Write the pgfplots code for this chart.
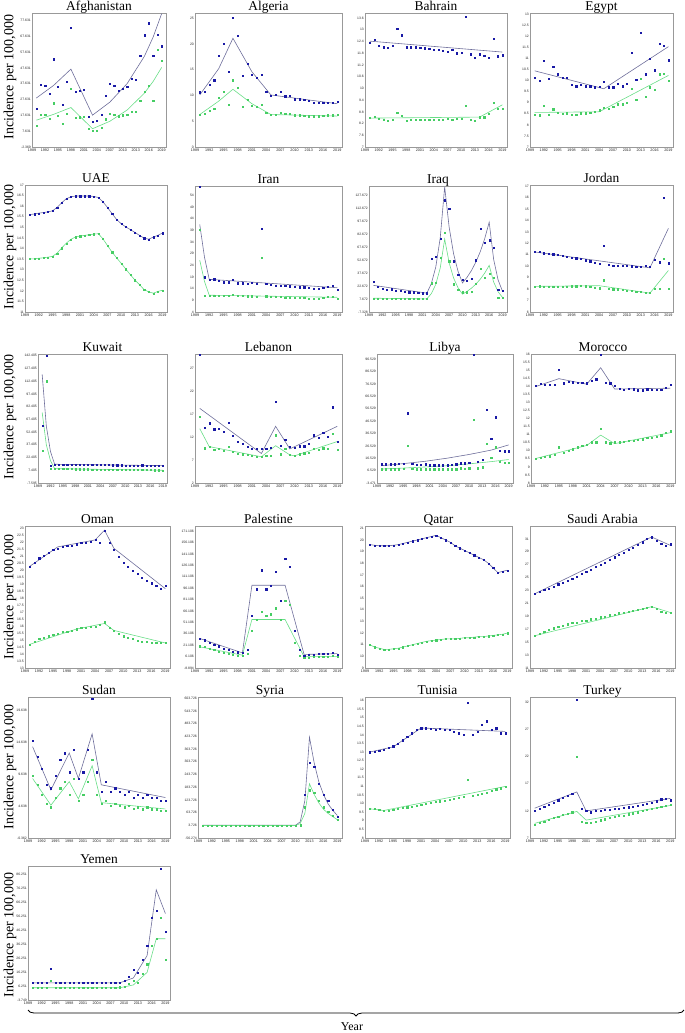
\documentclass[border=0pt]{standalone}
\usepackage{fontspec}
\setmainfont{Liberation Serif}
\newfontfamily\tickfont{Liberation Sans}
\usepackage{pgfplots}
\pgfplotsset{compat=1.18}
\usepackage{pgfplotstable}
\usetikzlibrary{decorations.pathreplacing}

\definecolor{ptblue}{RGB}{25,25,165}
\definecolor{fitblue}{RGB}{110,110,155}
\definecolor{ptgreen}{RGB}{70,205,100}
\definecolor{fitgreen}{RGB}{105,222,135}

\pgfplotsset{
  every axis title/.style={at={(0.5,1)}, anchor=base, inner sep=0pt, yshift=2.5bp,
    font=\fontsize{13.5}{13.5}\selectfont},
  panel/.style={
    scale only axis, anchor=north west, clip=false,
    xmin=1989, xmax=2020, xtick={1989,1992,...,2019},
    axis line style={draw=black!40, line width=0.8bp},
    tick style={draw=none},
    scaled ticks=false,
    ticklabel style={font=\tickfont\fontsize{3.4}{3.4}\selectfont, inner sep=1bp, text=black!85},
    xticklabel style={font=\tickfont\fontsize{3.7}{3.7}\selectfont, yshift=-0.5bp},
    /pgf/number format/fixed,
    /pgf/number format/precision=3,
    /pgf/number format/1000 sep={},
    /pgf/number format/assume math mode=true,
  },
  bp/.style={only marks, mark=square*, mark size=0.6bp, mark options={line width=0.1bp}, color=ptblue},
  gp/.style={only marks, mark=square*, mark size=0.6bp, mark options={line width=0.1bp}, color=ptgreen},
  bf/.style={no marks, color=fitblue, line width=0.6bp},
  gf/.style={no marks, color=fitgreen, line width=0.6bp},
}

% year, total (blue), second series (green)
\pgfplotstableread[row sep=\\]{yr b g\\
1990 22.1 11.4\\ 1991 37.2 18.3\\ 1992 36.5 18.3\\ 1993 31.2 15.7\\ 1994 53.3 25.4\\
1995 36.1 17.4\\ 1996 24.7 12.5\\ 1997 38.9 18.9\\ 1998 73.1 34.4\\ 1999 32.5 16.1\\
2000 33.5 16.6\\ 2001 33.8 16.8\\ 2002 16.8 9.2\\ 2003 13.8 8.2\\ 2004 14.2 8.2\\
2005 18.3 9.7\\ 2006 30.1 15.3\\ 2007 37.6 18.7\\ 2008 36.5 18.3\\ 2009 33.5 17.2\\
2010 34.8 17.8\\ 2011 35.7 18.0\\ 2012 40.9 20.0\\ 2013 40.4 20.0\\ 2014 55.5 26.9\\
2015 68.4 32.9\\ 2016 76.1 36.5\\ 2017 55.5 27.1\\ 2018 69.0 59.1\\ 2019 61.5 52.3\\}\afg

\pgfplotstableread[row sep=\\]{yr b g\\
1990 10.65 6.3\\ 1991 10.8 6.5\\ 1992 12.1 7.1\\ 1993 13.0 7.4\\ 1994 17.7 9.6\\
1995 20.1 10.8\\ 1996 14.7 8.3\\ 1997 25.1 13.0\\ 1998 21.7 11.5\\ 1999 13.8 7.9\\
2000 16.2 9.2\\ 2001 14.1 8.1\\ 2002 13.5 7.9\\ 2003 14.1 8.3\\ 2004 10.8 6.7\\
2005 10.0 6.3\\ 2006 10.1 6.3\\ 2007 10.7 6.7\\ 2008 9.9 6.5\\ 2009 10.0 6.5\\
2010 9.3 6.2\\ 2011 9.3 6.2\\ 2012 9.2 6.1\\ 2013 9.0 6.0\\ 2014 8.7 6.0\\
2015 8.6 6.0\\ 2016 8.6 6.1\\ 2017 8.7 6.2\\ 2018 8.7 6.2\\ 2019 8.8 6.3\\}\alg

\pgfplotstableread[row sep=\\]{yr b g\\
1990 12.35 8.50\\ 1991 12.51 8.57\\ 1992 12.19 8.44\\ 1993 12.12 8.39\\ 1994 12.09 8.36\\
1995 12.21 8.39\\ 1996 13.08 8.77\\ 1997 12.73 8.60\\ 1998 12.12 8.36\\ 1999 12.12 8.39\\
2000 12.12 8.39\\ 2001 12.11 8.39\\ 2002 12.07 8.39\\ 2003 12.04 8.39\\ 2004 11.99 8.39\\
2005 11.97 8.39\\ 2006 11.95 8.39\\ 2007 11.90 8.46\\ 2008 12.00 8.39\\ 2009 11.81 8.44\\
2010 11.83 8.46\\ 2011 13.69 9.12\\ 2012 11.76 8.39\\ 2013 11.57 8.36\\ 2014 11.76 8.53\\
2015 11.69 8.53\\ 2016 11.59 8.70\\ 2017 12.56 9.29\\ 2018 11.66 8.95\\ 2019 11.71 8.98\\}\bah

\pgfplotstableread[row sep=\\]{yr b g\\
1990 10.12 8.48\\ 1991 10.01 8.44\\ 1992 10.89 8.87\\ 1993 10.09 8.45\\ 1994 10.63 8.71\\
1995 10.29 8.56\\ 1996 10.12 8.51\\ 1997 10.12 8.53\\ 1998 9.81 8.45\\ 1999 9.75 8.45\\
2000 9.81 8.53\\ 2001 9.75 8.53\\ 2002 9.75 8.56\\ 2003 9.71 8.59\\ 2004 9.74 8.67\\
2005 9.95 8.79\\ 2006 9.71 8.74\\ 2007 9.71 8.82\\ 2008 9.86 8.94\\ 2009 9.75 8.94\\
2010 9.86 9.02\\ 2011 11.28 9.63\\ 2012 10.04 9.14\\ 2013 12.17 10.08\\ 2014 10.29 9.29\\
2015 10.98 9.71\\ 2016 10.47 9.58\\ 2017 11.68 10.29\\ 2018 11.58 10.32\\ 2019 10.93 10.01\\}\egy

\pgfplotstableread[row sep=\\]{yr b g\\
1990 15.60 13.51\\ 1991 15.63 13.51\\ 1992 15.67 13.54\\ 1993 15.70 13.56\\ 1994 15.73 13.59\\
1995 15.78 13.63\\ 1996 15.94 13.78\\ 1997 16.16 14.02\\ 1998 16.35 14.25\\ 1999 16.44 14.43\\
2000 16.48 14.54\\ 2001 16.48 14.59\\ 2002 16.48 14.62\\ 2003 16.48 14.65\\ 2004 16.46 14.68\\
2005 16.41 14.70\\ 2006 16.21 14.46\\ 2007 15.94 14.14\\ 2008 15.65 13.83\\ 2009 15.37 13.56\\
2010 15.17 13.30\\ 2011 15.02 13.03\\ 2012 14.89 12.76\\ 2013 14.76 12.51\\ 2014 14.62 12.29\\
2015 14.49 12.06\\ 2016 14.44 11.95\\ 2017 14.54 11.89\\ 2018 14.62 11.97\\ 2019 14.73 12.03\\}\uae

\pgfplotstableread[row sep=\\]{yr b g\\
1990 57.6 39.2\\ 1991 19.0 11.2\\ 1992 18.0 11.2\\ 1993 18.1 11.2\\ 1994 17.5 10.9\\
1995 16.8 10.9\\ 1996 16.8 10.9\\ 1997 18.0 11.5\\ 1998 16.4 10.9\\ 1999 16.4 10.9\\
2000 16.1 10.8\\ 2001 16.5 10.8\\ 2002 16.1 10.6\\ 2003 39.6 27.3\\ 2004 16.2 10.8\\
2005 15.8 10.6\\ 2006 15.5 10.6\\ 2007 15.5 10.5\\ 2008 15.4 10.3\\ 2009 15.1 10.3\\
2010 14.8 10.2\\ 2011 14.7 10.2\\ 2012 14.7 10.1\\ 2013 14.4 9.9\\ 2014 14.1 9.9\\
2015 14.1 9.9\\ 2016 14.4 10.2\\ 2017 15.0 10.5\\ 2018 15.4 10.5\\ 2019 13.7 9.9\\}\irn

\pgfplotstableread[row sep=\\]{yr b g\\
1990 27.6 8.7\\ 1991 22.5 8.7\\ 1992 19.7 8.7\\ 1993 18.5 8.7\\ 1994 19.3 8.7\\
1995 17.7 8.3\\ 1996 17.3 8.3\\ 1997 16.6 8.3\\ 1998 15.8 8.3\\ 1999 15.8 8.3\\
2000 15.4 8.3\\ 2001 14.6 8.3\\ 2002 14.6 7.9\\ 2003 54.3 26.4\\ 2004 57.0 27.2\\
2005 78.2 55.8\\ 2006 122.6 84.5\\ 2007 112.8 51.9\\ 2008 51.9 25.2\\ 2009 36.2 18.5\\
2010 30.3 15.8\\ 2011 29.5 15.8\\ 2012 31.5 16.6\\ 2013 53.1 26.0\\ 2014 90.0 42.9\\
2015 73.5 33.0\\ 2016 76.3 37.0\\ 2017 67.6 33.0\\ 2018 18.5 9.9\\ 2019 17.3 9.5\\}\irq

\pgfplotstableread[row sep=\\]{yr b g\\
1990 11.25 8.24\\ 1991 11.31 8.27\\ 1992 11.16 8.21\\ 1993 11.10 8.21\\ 1994 11.07 8.21\\
1995 11.01 8.21\\ 1996 10.95 8.21\\ 1997 10.86 8.24\\ 1998 10.75 8.27\\ 1999 10.72 8.27\\
2000 10.66 8.30\\ 2001 10.54 8.27\\ 2002 10.45 8.24\\ 2003 10.33 8.15\\ 2004 10.24 8.09\\
2005 11.78 8.80\\ 2006 10.13 8.06\\ 2007 10.07 8.00\\ 2008 10.04 8.00\\ 2009 10.04 7.94\\
2010 10.04 7.91\\ 2011 10.01 7.86\\ 2012 9.98 7.80\\ 2013 9.98 7.77\\ 2014 10.04 7.71\\
2015 9.98 7.68\\ 2016 10.60 8.06\\ 2017 10.36 8.06\\ 2018 16.03 10.66\\ 2019 10.27 8.06\\}\jor

\pgfplotstableread[row sep=\\]{yr b g\\
1990 60.5 30.2\\ 1991 142.4 112.5\\ 1992 13.3 9.5\\ 1993 14.3 9.3\\ 1994 14.3 9.2\\
1995 14.2 9.1\\ 1996 14.2 9.0\\ 1997 14.1 9.0\\ 1998 14.1 8.9\\ 1999 14.0 8.9\\
2000 14.0 8.8\\ 2001 13.9 8.8\\ 2002 13.9 8.7\\ 2003 13.8 8.7\\ 2004 13.8 8.6\\
2005 13.7 8.6\\ 2006 13.7 8.5\\ 2007 13.6 8.5\\ 2008 13.5 8.4\\ 2009 13.5 8.3\\
2010 13.4 8.3\\ 2011 13.3 8.2\\ 2012 13.3 8.1\\ 2013 13.2 8.0\\ 2014 13.6 8.0\\
2015 13.1 7.9\\ 2016 13.1 7.8\\ 2017 13.0 7.7\\ 2018 13.0 7.6\\ 2019 13.0 7.5\\}\kuw

\pgfplotstableread[row sep=\\]{yr b g\\
1990 29.9 16.5\\ 1991 14.1 9.6\\ 1992 15.0 9.9\\ 1993 13.7 9.2\\ 1994 13.8 9.4\\
1995 13.2 9.0\\ 1996 15.2 9.9\\ 1997 12.3 8.8\\ 1998 11.0 8.4\\ 1999 10.6 8.3\\
2000 9.9 8.1\\ 2001 9.4 7.9\\ 2002 9.4 7.7\\ 2003 9.4 7.7\\ 2004 9.5 7.9\\
2005 9.7 8.0\\ 2006 19.6 12.4\\ 2007 10.1 8.3\\ 2008 11.4 9.4\\ 2009 9.9 8.1\\
2010 9.7 8.0\\ 2011 10.0 8.3\\ 2012 10.0 8.5\\ 2013 10.5 8.6\\ 2014 12.4 9.4\\
2015 11.9 9.2\\ 2016 12.9 9.6\\ 2017 12.1 9.5\\ 2018 18.5 12.7\\ 2019 11.0 9.2\\}\leb

\pgfplotstableread[row sep=\\]{yr b g\\
1990 11.9 7.8\\ 1991 11.9 7.8\\ 1992 11.9 7.8\\ 1993 11.9 7.8\\ 1994 12.2 7.8\\
1995 12.2 8.1\\ 1996 53.1 26.5\\ 1997 12.2 8.1\\ 1998 11.4 7.8\\ 1999 11.4 7.8\\
2000 11.9 7.8\\ 2001 11.1 7.8\\ 2002 11.1 7.8\\ 2003 11.1 7.8\\ 2004 11.1 7.8\\
2005 11.1 7.8\\ 2006 11.4 7.8\\ 2007 11.9 7.8\\ 2008 12.7 8.6\\ 2009 12.7 8.3\\
2010 13.3 8.6\\ 2011 100.6 47.6\\ 2012 13.6 8.6\\ 2013 15.5 9.4\\ 2014 56.2 28.7\\
2015 32.5 17.4\\ 2016 49.8 25.6\\ 2017 22.9 13.6\\ 2018 22.4 13.3\\ 2019 22.4 13.3\\}\lib

\pgfplotstableread[row sep=\\]{yr b g\\
1990 14.03 9.52\\ 1991 14.15 9.59\\ 1992 14.13 9.63\\ 1993 14.13 9.67\\ 1994 14.13 9.74\\
1995 15.04 10.23\\ 1996 14.20 9.89\\ 1997 14.30 9.99\\ 1998 14.26 10.10\\ 1999 14.24 10.23\\
2000 14.24 10.31\\ 2001 14.20 10.37\\ 2002 14.37 10.54\\ 2003 14.45 10.54\\ 2004 15.96 11.39\\
2005 14.24 10.54\\ 2006 14.20 10.48\\ 2007 14.03 10.54\\ 2008 13.88 10.54\\ 2009 13.81 10.59\\
2010 13.88 10.63\\ 2011 13.83 10.65\\ 2012 13.77 10.69\\ 2013 13.77 10.73\\ 2014 13.83 10.80\\
2015 13.81 10.84\\ 2016 13.81 10.90\\ 2017 13.81 10.97\\ 2018 13.92 11.12\\ 2019 14.09 11.22\\}\mor

\pgfplotstableread[row sep=\\]{yr b g\\
1990 20.3 14.7\\ 1991 20.6 14.9\\ 1992 20.9 15.1\\ 1993 21.1 15.2\\ 1994 21.3 15.3\\
1995 21.5 15.4\\ 1996 21.6 15.5\\ 1997 21.7 15.6\\ 1998 21.8 15.6\\ 1999 21.8 15.7\\
2000 21.9 15.8\\ 2001 22.0 15.9\\ 2002 22.0 15.9\\ 2003 22.1 16.0\\ 2004 22.2 16.0\\
2005 22.0 16.1\\ 2006 22.9 16.3\\ 2007 22.0 15.9\\ 2008 21.5 15.7\\ 2009 21.0 15.5\\
2010 20.6 15.3\\ 2011 20.3 15.2\\ 2012 20.0 15.1\\ 2013 19.8 15.0\\ 2014 19.5 14.9\\
2015 19.3 14.9\\ 2016 19.1 14.8\\ 2017 18.9 14.8\\ 2018 18.7 14.8\\ 2019 18.9 14.8\\}\oma

\pgfplotstableread[row sep=\\]{yr b g\\
1990 30 20\\ 1991 28 19\\ 1992 25 17\\ 1993 22 15\\ 1994 20 13\\
1995 17 11\\ 1996 15 10\\ 1997 13 9\\ 1998 12 8\\ 1999 11 8\\
2000 15 10\\ 2001 60 40\\ 2002 95 55\\ 2003 120 65\\ 2004 95 60\\
2005 100 62\\ 2006 118 70\\ 2007 80 55\\ 2008 135 80\\ 2009 125 75\\
2010 40 25\\ 2011 15 8\\ 2012 8 5\\ 2013 9 5\\ 2014 9 6\\
2015 10 6\\ 2016 10 6\\ 2017 10 6\\ 2018 11 7\\ 2019 9 6\\}\pal

\pgfplotstableread[row sep=\\]{yr b g\\
1990 19.6 11.0\\ 1991 19.55 10.8\\ 1992 19.5 10.7\\ 1993 19.5 10.6\\ 1994 19.5 10.6\\
1995 19.55 10.65\\ 1996 19.6 10.7\\ 1997 19.7 10.8\\ 1998 19.8 10.9\\ 1999 19.9 11.0\\
2000 20.0 11.1\\ 2001 20.1 11.2\\ 2002 20.2 11.3\\ 2003 20.3 11.35\\ 2004 20.4 11.4\\
2005 20.2 11.45\\ 2006 20.0 11.5\\ 2007 19.8 11.5\\ 2008 19.5 11.5\\ 2009 19.3 11.55\\
2010 19.1 11.6\\ 2011 18.9 11.6\\ 2012 18.7 11.65\\ 2013 18.5 11.7\\ 2014 18.3 11.7\\
2015 18.0 11.75\\ 2016 17.6 11.8\\ 2017 17.2 11.85\\ 2018 17.3 11.9\\ 2019 17.4 12.0\\}\qat

\pgfplotstableread[row sep=\\]{yr b g\\
1990 22.5 16.0\\ 1991 22.8 16.3\\ 1992 23.1 16.6\\ 1993 23.3 16.9\\ 1994 23.6 17.2\\
1995 24.0 17.4\\ 1996 24.3 17.6\\ 1997 24.5 17.8\\ 1998 24.8 18.0\\ 1999 25.2 18.1\\
2000 25.6 18.3\\ 2001 26.0 18.4\\ 2002 26.3 18.6\\ 2003 26.7 18.7\\ 2004 27.0 18.9\\
2005 27.4 19.0\\ 2006 27.8 19.2\\ 2007 28.2 19.3\\ 2008 28.6 19.5\\ 2009 28.9 19.6\\
2010 29.3 19.8\\ 2011 29.7 19.9\\ 2012 30.1 20.1\\ 2013 30.5 20.2\\ 2014 31.0 20.4\\
2015 31.3 20.5\\ 2016 30.8 20.2\\ 2017 30.3 19.8\\ 2018 30.0 19.6\\ 2019 30.2 19.6\\}\sau

\pgfplotstableread[row sep=\\]{yr b g\\
1990 15 9.5\\ 1991 12.5 8\\ 1992 10.5 6.5\\ 1993 8 5\\ 1994 7.5 4.5\\
1995 9.5 6\\ 1996 12 7.5\\ 1997 13 8.5\\ 1998 10 6.5\\ 1999 13.5 9\\
2000 9 5.5\\ 2001 10 6.5\\ 2002 13.5 8.5\\ 2003 21.5 12\\ 2004 10 6.5\\
2005 7 5\\ 2006 8.5 5.5\\ 2007 7 4.8\\ 2008 7.5 5\\ 2009 7 4.8\\
2010 6.5 4.5\\ 2011 7 4.8\\ 2012 6 4.3\\ 2013 6.5 4.5\\ 2014 6 4.2\\
2015 6.5 4.5\\ 2016 6 4.2\\ 2017 6 4.2\\ 2018 5.5 4\\ 2019 5.5 4\\}\sud

\pgfplotstableread[row sep=\\]{yr b g\\
1990 4 3\\ 1991 4 3\\ 1992 4 3\\ 1993 4 3\\ 1994 4 3\\
1995 4 3\\ 1996 4 3\\ 1997 4 3\\ 1998 4 3\\ 1999 4 3\\
2000 4 3\\ 2001 4 3\\ 2002 4 3\\ 2003 4 3\\ 2004 4 3\\
2005 4 3\\ 2006 4 3\\ 2007 4 3\\ 2008 4 3\\ 2009 4 3\\
2010 4 3\\ 2011 8 5\\ 2012 150 90\\ 2013 300 170\\ 2014 280 160\\
2015 200 120\\ 2016 150 90\\ 2017 120 70\\ 2018 80 50\\ 2019 45 30\\}\syr

\pgfplotstableread[row sep=\\]{yr b g\\
1990 13.0 9.7\\ 1991 13.05 9.7\\ 1992 13.1 9.65\\ 1993 13.15 9.6\\ 1994 13.25 9.6\\
1995 13.35 9.65\\ 1996 13.5 9.7\\ 1997 13.7 9.75\\ 1998 13.9 9.8\\ 1999 14.1 9.85\\
2000 14.3 9.9\\ 2001 14.4 9.95\\ 2002 14.4 10.0\\ 2003 14.35 10.05\\ 2004 14.3 10.1\\
2005 14.35 10.15\\ 2006 14.3 10.2\\ 2007 14.3 10.25\\ 2008 14.2 10.3\\ 2009 14.1 10.35\\
2010 14.0 10.4\\ 2011 15.9 11.4\\ 2012 14.0 10.45\\ 2013 14.2 10.55\\ 2014 14.6 10.6\\
2015 14.8 10.65\\ 2016 14.3 10.75\\ 2017 14.4 10.85\\ 2018 14.1 10.9\\ 2019 14.1 11.0\\}\tun

\pgfplotstableread[row sep=\\]{yr b g\\
1990 12 9.5\\ 1991 12.4 9.8\\ 1992 12.8 10.1\\ 1993 13.2 10.4\\ 1994 13.6 10.7\\
1995 14 11\\ 1996 14.4 11.3\\ 1997 14.8 11.5\\ 1998 15.2 11.8\\ 1999 32.5 22\\
2000 12.5 10\\ 2001 12 9.8\\ 2002 11.8 9.9\\ 2003 12 10.1\\ 2004 12.1 10.3\\
2005 12.2 10.5\\ 2006 12.3 10.7\\ 2007 12.4 10.9\\ 2008 12.5 11.1\\ 2009 12.6 11.2\\
2010 12.7 11.4\\ 2011 12.8 11.6\\ 2012 13.0 11.8\\ 2013 13.1 12.0\\ 2014 13.3 12.2\\
2015 13.5 12.4\\ 2016 13.8 12.6\\ 2017 14.2 12.8\\ 2018 14.3 13.0\\ 2019 14.0 13.2\\}\tur

\pgfplotstableread[row sep=\\]{yr b g\\
1990 8.5 5\\ 1991 8.5 5\\ 1992 8.5 5\\ 1993 8.5 5\\ 1994 19 10\\
1995 8.5 5\\ 1996 8.5 5\\ 1997 8.5 5\\ 1998 8.5 5\\ 1999 8.5 5\\
2000 8.5 5\\ 2001 8.5 5\\ 2002 8.5 5\\ 2003 8.5 5\\ 2004 8.5 5\\
2005 8.5 5\\ 2006 8.5 5\\ 2007 8.5 5\\ 2008 8.5 5\\ 2009 9 5.5\\
2010 10 6\\ 2011 13 8\\ 2012 18 10\\ 2013 16 9\\ 2014 25 15\\
2015 35 22\\ 2016 55 35\\ 2017 60 40\\ 2018 90 55\\ 2019 45 25\\}\yem

\begin{document}
\begin{tikzpicture}
\path[use as bounding box] (0,0) rectangle (685bp,-1033bp);

% ---------- row 1 ----------
\begin{axis}[panel, at={(32bp,-13bp)}, width=134bp, height=134bp, title={Afghanistan},
  ymin=-2.369, ymax=82.4, ytick={-2.369,7.631,...,77.631}]
\addplot[bp] table[x=yr,y=b] {\afg};
\addplot[gp] table[x=yr,y=g] {\afg};
\addplot[bf] coordinates {(1990,28.6)(1994,36.6)(1998,46.9)(2003,17.8)(2007,26)(2011,37.7)(2015,55)(2017,67)(2019,82)};
\addplot[gf] coordinates {(1990,14.6)(1994,18.3)(1998,22.6)(2003,9.2)(2007,13.9)(2011,21)(2015,31.7)(2017,39)(2019,48)};
\end{axis}

\begin{axis}[panel, at={(195bp,-13bp)}, width=147bp, height=134bp, title={Algeria},
  ymin=0, ymax=26, ytick={0,5,...,25}]
\addplot[bp] table[x=yr,y=b] {\alg};
\addplot[gp] table[x=yr,y=g] {\alg};
\addplot[bf] coordinates {(1990,10.1)(1994,15.2)(1997,21.1)(2001,14.6)(2005,10.1)(2019,8.4)};
\addplot[gf] coordinates {(1990,6.3)(1994,8.9)(1997,11.2)(2001,8.4)(2005,6.3)(2019,6.0)};
\end{axis}

\begin{axis}[panel, at={(365bp,-13bp)}, width=142bp, height=134bp, title={Bahrain},
  ymin=7, ymax=13.86, ytick={7,7.6,...,13.6}]
\addplot[bp] table[x=yr,y=b] {\bah};
\addplot[gp] table[x=yr,y=g] {\bah};
\addplot[bf] coordinates {(1990,12.42)(2019,11.86)};
\addplot[gf] coordinates {(1990,8.48)(2014,8.53)(2019,9.16)};
\end{axis}

\begin{axis}[panel, at={(530bp,-13bp)}, width=143bp, height=134bp, title={Egypt},
  ymin=7, ymax=13.05, ytick={7,7.5,...,13}]
\addplot[bp] table[x=yr,y=b] {\egy};
\addplot[gp] table[x=yr,y=g] {\egy};
\addplot[bf] coordinates {(1990,10.44)(2005,9.63)(2019,11.53)};
\addplot[gf] coordinates {(1990,8.56)(2004,8.59)(2019,10.23)};
\end{axis}

% ---------- row 2 ----------
\begin{axis}[panel, at={(25bp,-185bp)}, width=142bp, height=127bp, title={UAE},
  ymin=11, ymax=17, ytick={11,11.5,...,17}]
\addplot[bp] table[x=yr,y=b] {\uae};
\addplot[gp] table[x=yr,y=g] {\uae};
\addplot[bf] table[x=yr,y=b] {\uae};
\addplot[gf] table[x=yr,y=g] {\uae};
\end{axis}

\begin{axis}[panel, at={(195bp,-186bp)}, width=147bp, height=126bp, title={Iran},
  ymin=4, ymax=58, ytick={4,9,...,54}]
\addplot[bp] table[x=yr,y=b] {\irn};
\addplot[gp] table[x=yr,y=g] {\irn};
\addplot[bf] coordinates {(1990,41.5)(1991,27.5)(1992,18.0)(2019,14.4)};
\addplot[gf] coordinates {(1990,26.2)(1991,17.1)(1992,11.2)(2019,10.3)};
\end{axis}

\begin{axis}[panel, at={(369bp,-186bp)}, width=138bp, height=126bp, title={Iraq},
  ymin=-7.328, ymax=139, ytick={-7.328,7.672,...,127.672}]
\addplot[bp] table[x=yr,y=b] {\irq};
\addplot[gp] table[x=yr,y=g] {\irq};
\addplot[bf] coordinates {(1990,23.6)(2002,14.6)(2003,25.6)(2004,44.9)(2005,78.7)(2006,138)(2007,91.3)(2008,60.3)(2009,39.9)(2010,26.4)(2011,32.8)(2012,40.7)(2013,50.6)(2014,62.8)(2015,78.0)(2016,97)(2017,53.8)(2018,29.9)(2019,16.6)};
\addplot[gf] coordinates {(1990,8.7)(2002,7.9)(2003,14)(2004,24.7)(2005,43.7)(2006,77.4)(2007,49.9)(2008,32.2)(2009,20.8)(2010,13.4)(2011,16.5)(2012,20.3)(2013,25.0)(2014,30.8)(2015,37.9)(2016,46.8)(2017,27.5)(2018,16.2)(2019,9.5)};
\end{axis}

\begin{axis}[panel, at={(530bp,-185bp)}, width=143bp, height=127bp, title={Jordan},
  ymin=6, ymax=17.1, ytick={6,7,...,17}]
\addplot[bp] table[x=yr,y=b] {\jor};
\addplot[gp] table[x=yr,y=g] {\jor};
\addplot[bf] coordinates {(1990,11.25)(2015,9.86)(2019,13.31)};
\addplot[gf] coordinates {(1990,8.24)(2004,8.30)(2015,7.65)(2019,9.63)};
\end{axis}

% ---------- row 3 ----------
\begin{axis}[panel, at={(38bp,-354bp)}, width=129bp, height=129bp, title={Kuwait},
  ymin=-7.595, ymax=144.4, ytick={-7.595,7.405,...,142.405}]
\addplot[bp] table[x=yr,y=b] {\kuw};
\addplot[gp] table[x=yr,y=g] {\kuw};
\addplot[bf] coordinates {(1990,120.4)(1991,59.5)(1992,29.4)(1993,14.5)(2019,12.9)};
\addplot[gf] coordinates {(1990,75.5)(1991,37.5)(1992,18.7)(1993,9.3)(2019,7.4)};
\end{axis}

\begin{axis}[panel, at={(195bp,-354bp)}, width=147bp, height=129bp, title={Lebanon},
  ymin=2, ymax=30, ytick={2,7,...,27}]
\addplot[bp] table[x=yr,y=b] {\leb};
\addplot[gp] table[x=yr,y=g] {\leb};
\addplot[bf] coordinates {(1990,18.2)(2003,8.4)(2006,14.3)(2009,9.4)(2019,14.3)};
\addplot[gf] coordinates {(1990,13.8)(1992,9.9)(2003,7.7)(2006,10.1)(2009,8.1)(2010,7.9)(2019,11.0)};
\end{axis}

\begin{axis}[panel, at={(377bp,-354bp)}, width=136bp, height=129bp, title={Libya},
  ymin=-3.471, ymax=100.8, ytick={-3.471,6.529,...,96.529}]
\addplot[bp] table[x=yr,y=b] {\lib};
\addplot[gp] table[x=yr,y=g] {\lib};
\addplot[bf] coordinates {(1990,10.5)(1995,12.2)(2000,14.1)(2005,16.6)(2010,19.6)(2015,23.1)(2019,27.3)};
\addplot[gf] coordinates {(1990,7.8)(1995,8.6)(2000,9.5)(2005,10.5)(2010,12.0)(2015,13.8)(2019,15.5)};
\end{axis}

\begin{axis}[panel, at={(531bp,-354bp)}, width=144bp, height=129bp, title={Morocco},
  ymin=8, ymax=16, ytick={8,8.5,...,16}]
\addplot[bp] table[x=yr,y=b] {\mor};
\addplot[gp] table[x=yr,y=g] {\mor};
\addplot[bf] coordinates {(1990,13.98)(1995,14.47)(2001,14.13)(2004,15.15)(2007,13.83)(2019,13.88)};
\addplot[gf] coordinates {(1990,9.52)(2001,10.33)(2004,10.97)(2007,10.44)(2019,11.12)};
\end{axis}

% ---------- row 4 ----------
\begin{axis}[panel, at={(25bp,-526bp)}, width=145bp, height=142bp, title={Oman},
  ymin=13, ymax=23.2, ytick={13,13.5,...,23}]
\addplot[bp] table[x=yr,y=b] {\oma};
\addplot[gp] table[x=yr,y=g] {\oma};
\addplot[bf] coordinates {(1990,20.3)(1996,21.7)(2004,22.2)(2006,22.9)(2008,21.6)(2019,18.7)};
\addplot[gf] coordinates {(1990,14.7)(2000,15.8)(2006,16.2)(2008,15.7)(2019,14.8)};
\end{axis}

\begin{axis}[panel, at={(195bp,-526bp)}, width=147bp, height=142bp, title={Palestine},
  ymin=-8.894, ymax=178, ytick={-8.894,6.106,...,171.106}]
\addplot[bp] table[x=yr,y=b] {\pal};
\addplot[gp] table[x=yr,y=g] {\pal};
\addplot[bf] coordinates {(1990,30)(1999,11)(2001,100)(2008,100)(2012,9)(2019,10)};
\addplot[gf] coordinates {(1990,19)(1999,8)(2001,55)(2008,55)(2012,6)(2019,6)};
\end{axis}

\begin{axis}[panel, at={(365bp,-526bp)}, width=147bp, height=142bp, title={Qatar},
  ymin=9, ymax=21.2, ytick={9,10,...,21}]
\addplot[bp] table[x=yr,y=b] {\qat};
\addplot[gp] table[x=yr,y=g] {\qat};
\addplot[bf] table[x=yr,y=b] {\qat};
\addplot[gf] table[x=yr,y=g] {\qat};
\end{axis}

\begin{axis}[panel, at={(530bp,-526bp)}, width=145bp, height=142bp, title={Saudi Arabia},
  ymin=11, ymax=33, ytick={11,13,...,31}]
\addplot[bp] table[x=yr,y=b] {\sau};
\addplot[gp] table[x=yr,y=g] {\sau};
\addplot[bf] coordinates {(1990,22.5)(2015,31.3)(2019,30)};
\addplot[gf] coordinates {(1990,16)(2015,20.5)(2019,19.6)};
\end{axis}

% ---------- row 5 ----------
\begin{axis}[panel, at={(28bp,-697bp)}, width=142bp, height=141bp, title={Sudan},
  ymin=-0.362, ymax=21.8, ytick={-0.362,4.638,...,19.638}]
\addplot[bp] table[x=yr,y=b] {\sud};
\addplot[gp] table[x=yr,y=g] {\sud};
\addplot[bf] coordinates {(1990,14)(1994,7.2)(1998,13)(2000,9)(2003,16)(2005,8)(2019,6)};
\addplot[gf] coordinates {(1990,9)(1994,4.8)(1998,8.5)(2000,5.8)(2003,11)(2005,5.2)(2019,4.2)};
\end{axis}

\begin{axis}[panel, at={(198bp,-697bp)}, width=144bp, height=141bp, title={Syria},
  ymin=-56.274, ymax=610, ytick={-56.274,3.726,...,603.726}]
\addplot[bp] table[x=yr,y=b] {\syr};
\addplot[gp] table[x=yr,y=g] {\syr};
\addplot[bf] coordinates {(1990,4)(2010,4)(2011,20)(2012,120)(2013,420)(2014,300)(2015,210)(2016,150)(2017,105)(2018,75)(2019,50)};
\addplot[gf] coordinates {(1990,3)(2010,3)(2011,12)(2012,60)(2013,200)(2014,150)(2015,110)(2016,80)(2017,60)(2018,45)(2019,30)};
\end{axis}

\begin{axis}[panel, at={(365bp,-697bp)}, width=145bp, height=141bp, title={Tunisia},
  ymin=8, ymax=16.2, ytick={8,8.5,...,16}]
\addplot[bp] table[x=yr,y=b] {\tun};
\addplot[gp] table[x=yr,y=g] {\tun};
\addplot[bf] coordinates {(1990,13.0)(1995,13.3)(2001,14.4)(2019,14.2)};
\addplot[gf] coordinates {(1990,9.7)(1993,9.6)(2019,11.0)};
\end{axis}

\begin{axis}[panel, at={(530bp,-697bp)}, width=145bp, height=141bp, title={Turkey},
  ymin=7, ymax=33, ytick={7,12,...,32}]
\addplot[bp] table[x=yr,y=b] {\tur};
\addplot[gp] table[x=yr,y=g] {\tur};
\addplot[bf] coordinates {(1990,12.5)(1999,15.5)(2001,12.0)(2019,14.3)};
\addplot[gf] coordinates {(1990,9.7)(1999,11.9)(2001,10.3)(2019,13.0)};
\end{axis}

% ---------- row 6 ----------
\begin{axis}[panel, at={(28bp,-866bp)}, width=142bp, height=134bp, title={Yemen},
  ymin=-3.749, ymax=92, ytick={-3.749,6.251,...,86.251}]
\addplot[bp] table[x=yr,y=b] {\yem};
\addplot[gp] table[x=yr,y=g] {\yem};
\addplot[bf] coordinates {(1990,8.5)(2009,8.5)(2012,12)(2015,28)(2017,75)(2019,58)};
\addplot[gf] coordinates {(1990,5)(2009,5)(2012,7)(2015,16)(2017,40)(2019,40)};
\end{axis}

% row labels
\foreach \yc in {77,247,417,597,767,935}
  \node[rotate=90, font=\fontsize{14}{14}\selectfont] at (10bp,-\yc bp) {Incidence per 100,000};

% shared x label
\draw[decorate, decoration={brace, mirror, amplitude=6bp}, line width=0.8bp]
  (28bp,-1010bp) -- (684bp,-1010bp);
\node[font=\fontsize{12}{12}\selectfont] at (352bp,-1027bp) {Year};
\end{tikzpicture}
\end{document}
